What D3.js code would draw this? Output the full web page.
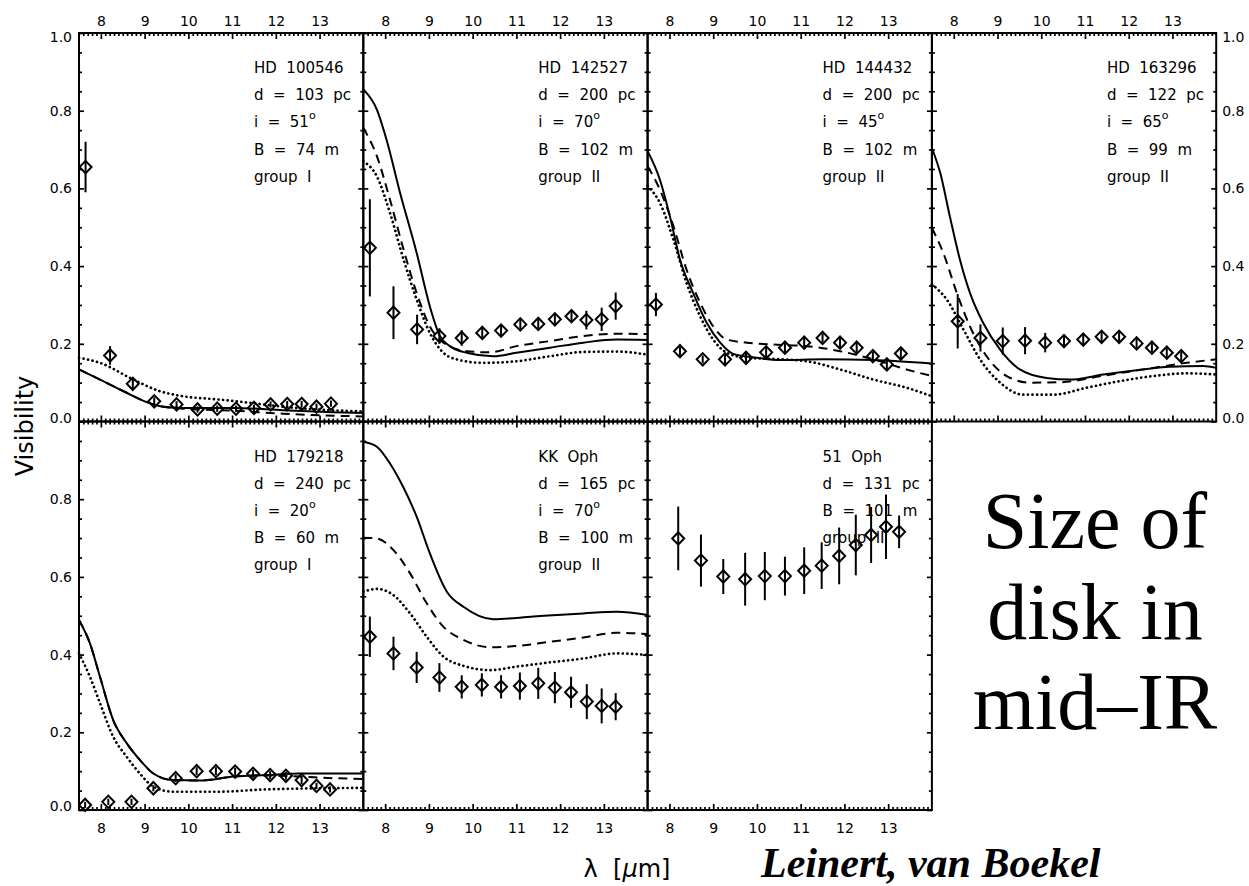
<!DOCTYPE html>
<html><head><meta charset="utf-8">
<script src="https://cdn.jsdelivr.net/npm/d3@7"></script>
<style>
body{margin:0;background:#fff}
svg{display:block}
text{font-family:"DejaVu Sans",sans-serif;fill:#000}
</style>
</head><body>
<svg id="c" width="1249" height="886"></svg>
<script>
// ---------------- data ----------------
const xMajorTicks = [8, 9, 10, 11, 12, 13];
const yMajorTicks = [0, 0.2, 0.4, 0.6, 0.8, 1.0];

// HD 100546
const p1Lam = [7.65, 8.21, 8.73, 9.22, 9.73, 10.21, 10.66, 11.09, 11.5, 11.88, 12.26, 12.59, 12.93, 13.26];
const p1Vis = [0.655, 0.17, 0.097, 0.052, 0.044, 0.031, 0.033, 0.033, 0.035, 0.044, 0.045, 0.045, 0.038, 0.046];
const p1Err = [0.065, 0.024, 0.012, 0.01, 0.008, 0.008, 0.008, 0.008, 0.008, 0.008, 0.008, 0.008, 0.008, 0.008];
const p1SolidX = [7.5, 7.98, 8.59, 9.05, 9.43, 9.88, 11.03, 12.17, 13.31, 14.0];
const p1SolidY = [0.134, 0.108, 0.074, 0.05, 0.038, 0.035, 0.035, 0.029, 0.024, 0.022];
const p1DashX = [7.5, 7.98, 8.59, 9.05, 9.43, 9.88, 11.03, 12.17, 13.31, 14.0];
const p1DashY = [0.134, 0.108, 0.074, 0.05, 0.038, 0.033, 0.028, 0.02, 0.015, 0.013];
const p1DotX = [7.5, 7.98, 8.74, 9.35, 9.88, 10.65, 11.41, 12.17, 12.93, 14.0];
const p1DotY = [0.164, 0.151, 0.108, 0.078, 0.065, 0.057, 0.048, 0.038, 0.031, 0.026];

// HD 142527
const p2Lam = [7.65, 8.19, 8.73, 9.24, 9.75, 10.22, 10.65, 11.09, 11.5, 11.88, 12.26, 12.6, 12.95, 13.27];
const p2Vis = [0.447, 0.28, 0.237, 0.22, 0.215, 0.228, 0.234, 0.25, 0.251, 0.263, 0.271, 0.261, 0.263, 0.297];
const p2Err = [0.125, 0.068, 0.038, 0.02, 0.02, 0.015, 0.015, 0.015, 0.015, 0.015, 0.015, 0.024, 0.03, 0.035];
const p2SolidX = [7.5, 7.81, 8.03, 8.34, 8.72, 9.02, 9.25, 9.48, 9.86, 10.47, 11.0, 11.77, 12.53, 13.29, 14.0];
const p2SolidY = [0.855, 0.803, 0.726, 0.589, 0.434, 0.297, 0.22, 0.194, 0.177, 0.168, 0.177, 0.19, 0.203, 0.211, 0.21];
const p2DashX = [7.5, 7.81, 8.11, 8.42, 8.72, 9.02, 9.33, 9.86, 10.39, 11.0, 11.77, 12.53, 13.29, 14.0];
const p2DashY = [0.756, 0.683, 0.571, 0.443, 0.331, 0.245, 0.203, 0.181, 0.178, 0.194, 0.207, 0.22, 0.226, 0.225];
const p2DotX = [7.5, 7.81, 8.11, 8.42, 8.72, 9.02, 9.33, 9.63, 10.24, 11.0, 11.77, 12.53, 13.29, 14.0];
const p2DotY = [0.67, 0.631, 0.537, 0.417, 0.314, 0.228, 0.177, 0.16, 0.151, 0.155, 0.168, 0.179, 0.18, 0.172];

// HD 144432
const p3Lam = [7.69, 8.24, 8.76, 9.27, 9.75, 10.21, 10.64, 11.08, 11.5, 11.9, 12.28, 12.65, 12.97, 13.29];
const p3Vis = [0.301, 0.181, 0.16, 0.16, 0.164, 0.178, 0.19, 0.203, 0.215, 0.203, 0.19, 0.168, 0.147, 0.175];
const p3Err = [0.03, 0.012, 0.01, 0.012, 0.012, 0.015, 0.012, 0.012, 0.012, 0.012, 0.012, 0.012, 0.012, 0.012];
const p3SolidX = [7.5, 7.78, 8.01, 8.24, 8.54, 8.85, 9.16, 9.46, 10.0, 10.53, 11.52, 12.66, 14.0];
const p3SolidY = [0.696, 0.623, 0.528, 0.417, 0.331, 0.254, 0.203, 0.174, 0.164, 0.158, 0.16, 0.158, 0.149];
const p3DashX = [7.5, 7.78, 8.09, 8.39, 8.7, 9.0, 9.31, 9.77, 10.37, 11.14, 11.9, 12.66, 13.42, 14.0];
const p3DashY = [0.657, 0.597, 0.503, 0.391, 0.306, 0.245, 0.211, 0.203, 0.198, 0.194, 0.181, 0.16, 0.134, 0.117];
const p3DotX = [7.5, 7.78, 8.09, 8.39, 8.7, 9.0, 9.31, 9.77, 10.37, 11.14, 11.9, 12.66, 13.42, 14.0];
const p3DotY = [0.606, 0.563, 0.468, 0.357, 0.271, 0.211, 0.177, 0.164, 0.161, 0.155, 0.134, 0.108, 0.087, 0.065];

// HD 163296
const p4Lam = [8.09, 8.61, 9.12, 9.63, 10.09, 10.52, 10.96, 11.38, 11.78, 12.18, 12.53, 12.87, 13.2];
const p4Vis = [0.258, 0.215, 0.207, 0.208, 0.203, 0.207, 0.211, 0.218, 0.218, 0.201, 0.19, 0.177, 0.168];
const p4Err = [0.07, 0.035, 0.035, 0.035, 0.025, 0.015, 0.015, 0.015, 0.015, 0.012, 0.012, 0.015, 0.012];
const p4SolidX = [7.5, 7.69, 7.91, 8.14, 8.37, 8.67, 9.06, 9.51, 10.12, 10.66, 11.42, 12.18, 12.94, 13.7, 14.0];
const p4SolidY = [0.704, 0.64, 0.528, 0.417, 0.331, 0.254, 0.185, 0.134, 0.112, 0.108, 0.121, 0.132, 0.141, 0.143, 0.138];
const p4DashX = [7.5, 7.76, 8.07, 8.37, 8.75, 9.21, 9.74, 10.43, 11.42, 12.56, 13.32, 14.0];
const p4DashY = [0.498, 0.434, 0.331, 0.245, 0.168, 0.117, 0.1, 0.101, 0.118, 0.138, 0.151, 0.16];
const p4DotX = [7.5, 7.84, 8.22, 8.6, 9.06, 9.59, 10.28, 11.04, 11.8, 12.56, 13.32, 14.0];
const p4DotY = [0.353, 0.314, 0.237, 0.16, 0.1, 0.069, 0.069, 0.087, 0.104, 0.117, 0.124, 0.121];

// HD 179218
const p5Lam = [7.64, 8.17, 8.7, 9.2, 9.71, 10.19, 10.63, 11.07, 11.48, 11.87, 12.23, 12.59, 12.93, 13.24];
const p5Vis = [0.013, 0.021, 0.021, 0.056, 0.082, 0.1, 0.1, 0.099, 0.093, 0.09, 0.088, 0.077, 0.062, 0.053];
const p5Err = [0.008, 0.008, 0.008, 0.008, 0.01, 0.01, 0.01, 0.01, 0.01, 0.01, 0.01, 0.01, 0.008, 0.008];
const p5SolidX = [7.5, 7.75, 7.98, 8.28, 8.59, 8.89, 9.2, 9.65, 10.27, 11.03, 11.79, 12.55, 14.0];
const p5SolidY = [0.489, 0.429, 0.343, 0.232, 0.172, 0.129, 0.094, 0.077, 0.076, 0.086, 0.09, 0.094, 0.094];
const p5DashX = [7.5, 7.75, 7.98, 8.28, 8.59, 8.89, 9.2, 9.65, 10.27, 11.03, 11.79, 12.55, 13.3, 14.0];
const p5DashY = [0.489, 0.429, 0.343, 0.232, 0.172, 0.129, 0.094, 0.077, 0.076, 0.086, 0.089, 0.086, 0.082, 0.08];
const p5DotX = [7.5, 7.75, 7.98, 8.28, 8.59, 8.89, 9.2, 9.65, 10.65, 11.79, 14.0];
const p5DotY = [0.403, 0.343, 0.275, 0.189, 0.137, 0.094, 0.06, 0.047, 0.047, 0.053, 0.057];

// KK Oph
const p6Lam = [7.65, 8.19, 8.72, 9.24, 9.75, 10.21, 10.65, 11.08, 11.5, 11.88, 12.25, 12.61, 12.95, 13.27];
const p6Vis = [0.446, 0.403, 0.367, 0.341, 0.317, 0.322, 0.317, 0.319, 0.326, 0.315, 0.303, 0.279, 0.268, 0.266];
const p6Err = [0.052, 0.043, 0.04, 0.037, 0.03, 0.03, 0.03, 0.035, 0.04, 0.04, 0.04, 0.045, 0.045, 0.035];
const p6SolidX = [7.5, 7.81, 8.11, 8.41, 8.72, 9.02, 9.41, 9.79, 10.47, 11.39, 12.53, 13.29, 14.0];
const p6SolidY = [0.948, 0.935, 0.892, 0.832, 0.755, 0.661, 0.562, 0.523, 0.491, 0.498, 0.506, 0.51, 0.502];
const p6DashX = [7.5, 7.81, 8.19, 8.57, 8.95, 9.33, 9.79, 10.4, 11.0, 11.77, 12.53, 13.29, 14.0];
const p6DashY = [0.701, 0.699, 0.669, 0.609, 0.532, 0.472, 0.438, 0.419, 0.422, 0.433, 0.444, 0.456, 0.453];
const p6DotX = [7.5, 7.81, 8.19, 8.57, 8.95, 9.33, 9.79, 10.4, 11.0, 11.77, 12.53, 13.29, 14.0];
const p6DotY = [0.562, 0.569, 0.553, 0.506, 0.446, 0.395, 0.371, 0.36, 0.369, 0.38, 0.39, 0.403, 0.399];

// 51 Oph
const p7Lam = [8.2, 8.72, 9.23, 9.73, 10.18, 10.64, 11.08, 11.48, 11.88, 12.26, 12.61, 12.95, 13.25];
const p7Vis = [0.699, 0.642, 0.601, 0.594, 0.602, 0.602, 0.616, 0.629, 0.654, 0.682, 0.708, 0.729, 0.716];
const p7Err = [0.082, 0.067, 0.045, 0.068, 0.062, 0.05, 0.06, 0.06, 0.073, 0.078, 0.072, 0.083, 0.042];

const p1Text = ["HD  100546", "d  =  103  pc", "i  =  51|o", "B  =  74  m", "group  I"];
const p2Text = ["HD  142527", "d  =  200  pc", "i  =  70|o", "B  =  102  m", "group  II"];
const p3Text = ["HD  144432", "d  =  200  pc", "i  =  45|o", "B  =  102  m", "group  II"];
const p4Text = ["HD  163296", "d  =  122  pc", "i  =  65|o", "B  =  99  m", "group  II"];
const p5Text = ["HD  179218", "d  =  240  pc", "i  =  20|o", "B  =  60  m", "group  I"];
const p6Text = ["KK  Oph", "d  =  165  pc", "i  =  70|o", "B  =  100  m", "group  II"];
const p7Text = ["51  Oph", "d  =  131  pc", "B  =  101  m", "group  II"];

const yAxisTitle = "Visibility";
const xAxisTitle = "λ  [";
const sideText = ["Size of", "disk in", "mid\u2013IR"];
const creditText = "Leinert, van Boekel";

// ---------------- build ----------------
const zip = (xs, ys) => xs.map((v, i) => [v, ys[i]]);
const panels = [
  {col:0,row:0,lam:p1Lam,vis:p1Vis,err:p1Err,text:p1Text,solid:zip(p1SolidX,p1SolidY),dash:zip(p1DashX,p1DashY),dot:zip(p1DotX,p1DotY)},
  {col:1,row:0,lam:p2Lam,vis:p2Vis,err:p2Err,text:p2Text,solid:zip(p2SolidX,p2SolidY),dash:zip(p2DashX,p2DashY),dot:zip(p2DotX,p2DotY)},
  {col:2,row:0,lam:p3Lam,vis:p3Vis,err:p3Err,text:p3Text,solid:zip(p3SolidX,p3SolidY),dash:zip(p3DashX,p3DashY),dot:zip(p3DotX,p3DotY)},
  {col:3,row:0,lam:p4Lam,vis:p4Vis,err:p4Err,text:p4Text,solid:zip(p4SolidX,p4SolidY),dash:zip(p4DashX,p4DashY),dot:zip(p4DotX,p4DotY)},
  {col:0,row:1,lam:p5Lam,vis:p5Vis,err:p5Err,text:p5Text,solid:zip(p5SolidX,p5SolidY),dash:zip(p5DashX,p5DashY),dot:zip(p5DotX,p5DotY)},
  {col:1,row:1,lam:p6Lam,vis:p6Vis,err:p6Err,text:p6Text,solid:zip(p6SolidX,p6SolidY),dash:zip(p6DashX,p6DashY),dot:zip(p6DotX,p6DotY)},
  {col:2,row:1,lam:p7Lam,vis:p7Vis,err:p7Err,text:p7Text,solid:null,dash:null,dot:null}
];

const svg = d3.select("#c");
const PW = 284.3, PH = 388.5, LEFT = 79;
const ROWTOP = [33, 421.5];
const xMinor = d3.range(76, 140).filter(v => v % 10 !== 0).map(v => v / 10);
const yMinor = d3.range(1, 20).filter(v => v % 4 !== 0).map(v => v / 20);
const fmt = d3.format(".1f");

panels.forEach(p => {
  const x0 = LEFT + p.col * PW, y0 = ROWTOP[p.row];
  const x = d3.scaleLinear().domain([7.5, 14]).range([x0, x0 + PW]);
  const y = d3.scaleLinear().domain([0, 1]).range([y0 + PH, y0]);
  const g = svg.append("g");

  // annotation text
  const tg = g.append("g").attr("font-size", 15).style("white-space", "pre");
  p.text.forEach((t, k) => {
    const parts = t.split("|");
    const te = tg.append("text").attr("x", x0 + 175).attr("y", y0 + 40 + k * 27.2)
      .attr("xml:space", "preserve").text(parts[0]);
    if (parts[1]) te.append("tspan").attr("dy", -8).attr("font-size", 11).text(parts[1]);
  });

  // model curves
  const line = d3.line().x(d => x(d[0])).y(d => y(d[1])).curve(d3.curveMonotoneX);
  const styles = [["solid", null], ["dash", "9,6"], ["dot", "0.1,4.5"]];
  styles.forEach(([k, da]) => {
    if (!p[k]) return;
    g.append("path").attr("d", line(p[k])).attr("fill", "none").attr("stroke", "#000")
      .attr("stroke-width", k === "dot" ? 2.7 : 2)
      .attr("stroke-linecap", k === "dot" ? "round" : "butt")
      .attr("stroke-dasharray", da);
  });

  // data points with error bars
  const pts = p.lam.map((l, i) => ({l, v: p.vis[i], e: p.err[i]}));
  g.selectAll("line.err").data(pts).join("line")
    .attr("x1", d => x(d.l)).attr("x2", d => x(d.l))
    .attr("y1", d => y(d.v - d.e)).attr("y2", d => y(d.v + d.e))
    .attr("stroke", "#000").attr("stroke-width", 2);
  g.selectAll("path.pt").data(pts).join("path")
    .attr("transform", d => `translate(${x(d.l)},${y(d.v)})`)
    .attr("d", "M0,-6.2L6,0L0,6.2L-6,0Z")
    .attr("fill", "none").attr("stroke", "#000").attr("stroke-width", 2);

  // axes
  const ax = g.append("g").attr("font-size", 14);
  const styleAxis = sel => {
    sel.select(".domain").remove();
    sel.selectAll("line").attr("stroke", "#000").attr("stroke-width", 1.7);
    sel.selectAll("text").attr("font-family", "DejaVu Sans").attr("font-size", 14);
  };
  // top
  ax.append("g").attr("transform", `translate(0,${y0})`)
    .call(d3.axisTop(x).tickValues(xMajorTicks).tickSize(-6).tickSizeOuter(0).tickPadding(7)
      .tickFormat(p.row === 0 ? d3.format("d") : () => ""))
    .call(styleAxis);
  ax.append("g").attr("transform", `translate(0,${y0})`)
    .call(d3.axisTop(x).tickValues(xMinor).tickSize(-3).tickSizeOuter(0).tickFormat(() => ""))
    .call(styleAxis);
  // bottom
  ax.append("g").attr("transform", `translate(0,${y0 + PH})`)
    .call(d3.axisBottom(x).tickValues(xMajorTicks).tickSize(-6).tickSizeOuter(0).tickPadding(13.5)
      .tickFormat(p.row === 1 ? d3.format("d") : () => ""))
    .call(styleAxis);
  ax.append("g").attr("transform", `translate(0,${y0 + PH})`)
    .call(d3.axisBottom(x).tickValues(xMinor).tickSize(-3).tickSizeOuter(0).tickFormat(() => ""))
    .call(styleAxis);
  // left
  const leftLab = p.col === 0;
  const yLabFmt = v => (p.row === 1 && v === 1) ? "" : fmt(v);
  ax.append("g").attr("transform", `translate(${x0},0)`)
    .call(d3.axisLeft(y).tickValues(yMajorTicks).tickSize(-5).tickSizeOuter(0).tickPadding(7)
      .tickFormat(leftLab ? yLabFmt : () => ""))
    .call(styleAxis)
    .call(s => s.selectAll("text").attr("dy", d => d === 1 ? "0.62em" : d === 0 ? "0.05em" : "0.32em"));
  ax.append("g").attr("transform", `translate(${x0},0)`)
    .call(d3.axisLeft(y).tickValues(yMinor).tickSize(-3).tickSizeOuter(0).tickFormat(() => ""))
    .call(styleAxis);
  // right
  const rightLab = p.col === 3;
  ax.append("g").attr("transform", `translate(${x0 + PW},0)`)
    .call(d3.axisRight(y).tickValues(yMajorTicks).tickSize(-5).tickSizeOuter(0).tickPadding(6)
      .tickFormat(rightLab ? fmt : () => ""))
    .call(styleAxis)
    .call(s => s.selectAll("text").attr("dy", d => d === 1 ? "0.62em" : d === 0 ? "0.05em" : "0.32em"));
  ax.append("g").attr("transform", `translate(${x0 + PW},0)`)
    .call(d3.axisRight(y).tickValues(yMinor).tickSize(-3).tickSizeOuter(0).tickFormat(() => ""))
    .call(styleAxis);

  // frame
  g.append("rect").attr("x", x0).attr("y", y0).attr("width", PW).attr("height", PH)
    .attr("fill", "none").attr("stroke", "#000").attr("stroke-width", 2);
});

// axis titles
svg.append("text").attr("transform", "translate(33,426) rotate(-90)")
  .attr("text-anchor", "middle").attr("font-size", 24).text(yAxisTitle);

const xt = svg.append("text").attr("x", 627).attr("y", 877).attr("text-anchor", "middle")
  .attr("font-size", 24).attr("xml:space", "preserve").style("white-space", "pre");
xt.append("tspan").text(xAxisTitle);
xt.append("tspan").attr("font-style", "italic").text("μ");
xt.append("tspan").text("m]");

// side text
sideText.forEach((t, i) => {
  svg.append("text").attr("x", 1095).attr("y", 548 + i * 90.5).attr("text-anchor", "middle")
    .style("font-family", "'Liberation Serif', serif")
    .attr("font-size", 80).text(t);
});

svg.append("text").attr("x", 761).attr("y", 877)
  .style("font-family", "'Liberation Serif', serif").attr("font-weight", "bold")
  .attr("font-style", "italic").attr("font-size", 42).text(creditText);
</script>
</body></html>
